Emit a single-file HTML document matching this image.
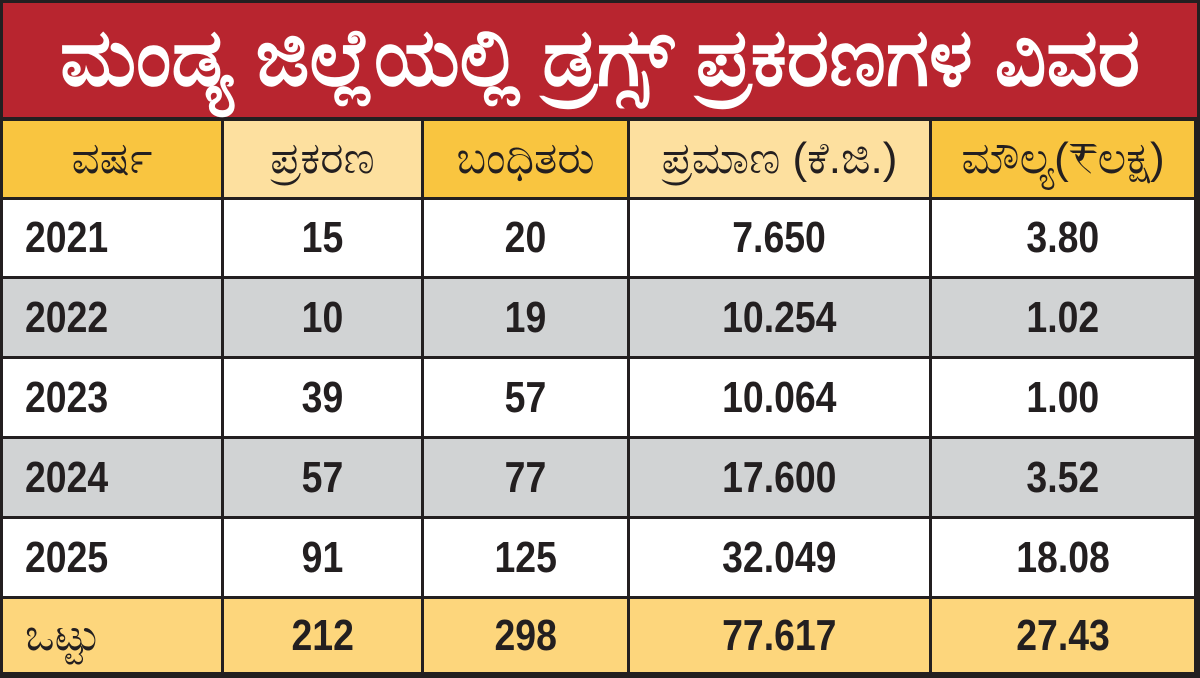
<!DOCTYPE html>
<html><head><meta charset="utf-8">
<style>
html,body{margin:0;padding:0;background:#222;}
#wrap{position:relative;width:1200px;height:678px;background:#231f20;overflow:hidden;font-family:"Liberation Sans",sans-serif;}
.title{position:absolute;left:3px;top:3px;width:1194px;height:114px;background:#b8252f;color:#fff;font-size:80px;font-weight:bold;text-align:center;line-height:110px;white-space:nowrap;}
.cell{position:absolute;box-sizing:border-box;display:flex;align-items:center;justify-content:center;color:#231f20;}
.num{font-weight:bold;font-size:44px;transform:scaleX(0.85);display:inline-block;}
.hdr{font-size:44px;}
.left{justify-content:flex-start;padding-left:22px;}
.left .num{transform-origin:left center;}
</style></head><body>
<div id="wrap">
<div class="title">ಮಂಡ್ಯ ಜಿಲ್ಲೆಯಲ್ಲಿ ಡ್ರಗ್ಸ್ ಪ್ರಕರಣಗಳ ವಿವರ</div>
</div>
<script>
const headers=["ವರ್ಷ","ಪ್ರಕರಣ","ಬಂಧಿತರು","ಪ್ರಮಾಣ (ಕೆ.ಜಿ.)","ಮೌಲ್ಯ(₹ಲಕ್ಷ)"];
const years=["2021","2022","2023","2024","2025"];
const cases=["15","10","39","57","91"];
const arrested=["20","19","57","77","125"];
const quantity=["7.650","10.254","10.064","17.600","32.049"];
const value=["3.80","1.02","1.00","3.52","18.08"];
const totals=["ಒಟ್ಟು","212","298","77.617","27.43"];
const colX=[3,224,424,630,932,1197];
const rowY=[121,200,279,359,439,519,599,675];
const wrap=document.getElementById('wrap');
function cell(r,c,text,bg,cls,isHdr){
  const d=document.createElement('div');
  d.className='cell'+((c===0&&!isHdr)?' left':'');
  d.style.left=colX[c]+'px';d.style.top=rowY[r]+'px';
  d.style.width=(colX[c+1]-colX[c]-3)+'px';d.style.height=(rowY[r+1]-rowY[r]-3)+'px';
  d.style.background=bg;
  const s=document.createElement('span');
  s.className=cls;s.textContent=text;
  d.appendChild(s);
  
  
  wrap.appendChild(d);
}
headers.forEach((h,c)=>cell(0,c,h,c%2?'#fde09f':'#f9c540','hdr',true));
for(let i=0;i<years.length;i++){
  const bg=i%2?'#d1d3d4':'#ffffff';
  [years[i],cases[i],arrested[i],quantity[i],value[i]].forEach((v,c)=>cell(i+1,c,v,bg,'num',false));
}
totals.forEach((v,c)=>cell(6,c,v,'#fdd67c',c===0?'hdr':'num',false));
</script>
</body></html>
